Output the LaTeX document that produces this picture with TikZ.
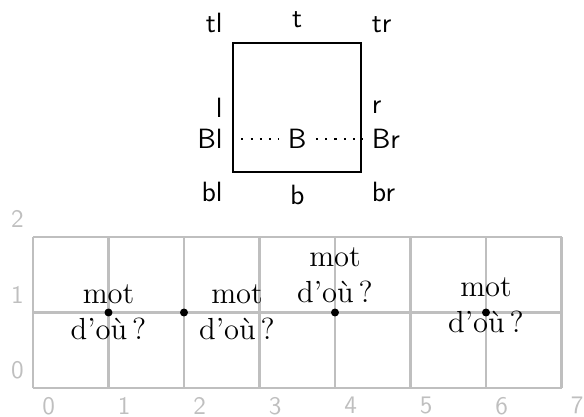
\documentclass[tikz,border=0pt]{standalone}
\usepackage{fontspec}
\usetikzlibrary{positioning}

\begin{document}
\begin{tikzpicture}[
  lbl/.style={font=\sffamily\fontsize{10.5}{12.6}\selectfont},
  axis/.style={font=\sffamily\fontsize{9.5}{11.4}\selectfont,text=gray!50},
  mot/.style={align=center,font=\fontsize{11.5}{13.7}\selectfont},
  pt/.style={circle,fill,inner sep=0pt,minimum size=3pt},
  dots/.style={line width=0.8pt,dash pattern=on 0.8pt off 2.7pt}
]
  \useasboundingbox (-0.437,-0.371) rectangle (7.298,5.139);
  \draw[gray!50,line width=0.8pt] (0,0) grid (7,2);
  \foreach \x in {0,...,7}
    \node[axis,below right] (x\x) at (\x,0) {\x};
  \foreach \y in {0,1,2}
    \node[axis,above left] (y\y) at (0,\y) {\y};

  \node[draw,line width=0.8pt,minimum size=1.7cm,text height=0.83cm,text depth=0pt] (sq) at (3.5,3.715) {};
  \node[lbl] (B) at (sq.base) {B};
  \draw[dots] (sq.base west) -- (B) -- (sq.base east);
  \node[lbl,above left] (tl) at (sq.north west) {tl};
  \node[lbl,above=2pt] (t) at (sq.north) {t};
  \node[lbl,above right] (tr) at (sq.north east) {tr};
  \node[lbl,left] (l) at (sq.west) {l};
  \node[lbl,right] (r) at (sq.east) {r};
  \node[lbl,left] (Bl) at (sq.base west) {Bl};
  \node[lbl,right] (Br) at (sq.base east) {Br};
  \node[lbl,below left] (bl) at (sq.south west) {bl};
  \node[lbl,below=1pt] (b) at (sq.south) {b};
  \node[lbl,below right] (br) at (sq.south east) {br};

  \node[mot] (m1) at (1,1) {mot\\d’où\,?};
  \node[mot,right=2.2pt] (m2) at (2,1) {mot\\d’où\,?};
  \node[mot,above] (m3) at (4,1) {mot\\d’où\,?};
  \node[mot,yshift=2.7pt] (m4) at (6,1) {mot\\d’où\,?};
  \node[pt] (p1) at (1,1) {};
  \node[pt] (p2) at (2,1) {};
  \node[pt] (p3) at (4,1) {};
  \node[pt] (p4) at (6,1) {};
\end{tikzpicture}
\end{document}
